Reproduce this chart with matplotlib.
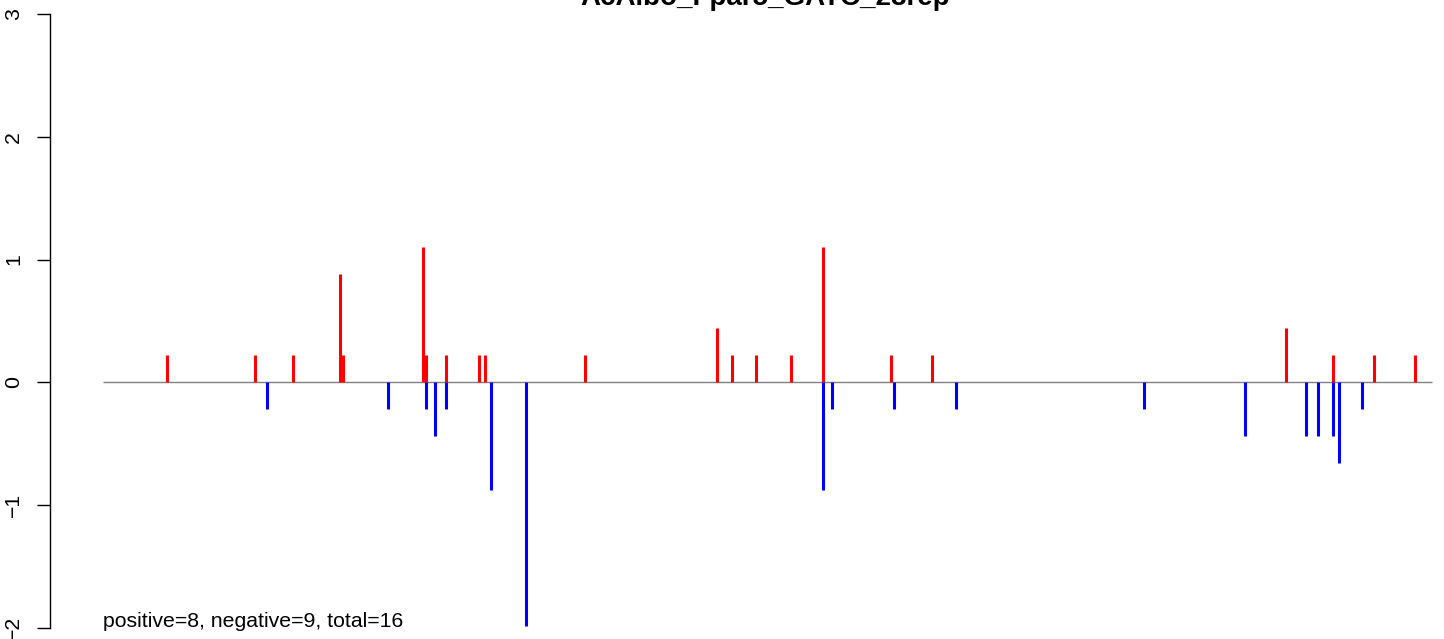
import matplotlib
matplotlib.use("Agg")
import matplotlib.pyplot as plt

plt.rcParams['font.family'] = ['Liberation Sans', 'DejaVu Sans']

#==============================================================================
# Data
#==============================================================================

title = "AcAlbo_Fpar5_GATC_28rep"
note = "positive=8, negative=9, total=16"

pos_x = [167, 255, 293, 340, 343, 423, 426, 446, 479, 485, 585,
         717, 732, 756, 791, 823, 891, 932, 1286, 1333, 1374, 1415]
pos_h = [0.22, 0.22, 0.22, 0.88, 0.22, 1.10, 0.22, 0.22, 0.22, 0.22, 0.22,
         0.44, 0.22, 0.22, 0.22, 1.10, 0.22, 0.22, 0.44, 0.22, 0.22, 0.22]

neg_x = [267, 388, 426, 435, 446, 491, 526, 823, 832, 894, 956,
         1144, 1245, 1306, 1318, 1333, 1339, 1362]
neg_h = [-0.22, -0.22, -0.22, -0.44, -0.22, -0.88, -1.98, -0.88, -0.22,
         -0.22, -0.22, -0.22, -0.44, -0.44, -0.44, -0.44, -0.66, -0.22]

x_range = (103, 1432)
y_ticks = [-2, -1, 0, 1, 2, 3]

#==============================================================================
# Plot
#==============================================================================

W, H = 1444, 639
fig = plt.figure(figsize=(W / 100, H / 100), dpi=100)
ax = fig.add_axes([50 / W, (H - 628) / H, (W - 50) / W, 614 / H])
ax.set_xlim(50, 1444)
ax.set_ylim(-2, 3)

# baseline and the signal bars
ax.hlines(0, x_range[0], x_range[1], color="#808080", linewidth=1.0, zorder=1)
ax.vlines(pos_x, 0, pos_h, color="#ff0000", linewidth=2.2, capstyle="butt", zorder=2)
ax.vlines(neg_x, 0, neg_h, color="#0000ff", linewidth=2.2, capstyle="butt", zorder=3)

for side in ["top", "right", "bottom"]:
    ax.spines[side].set_visible(False)
ax.spines["left"].set_linewidth(1.0)
ax.set_xticks([])
ax.set_yticks(y_ticks)
ax.set_yticklabels([str(t).replace("-", "\u2212") for t in y_ticks],
                   rotation=90, va="center", fontsize=15.3)
ax.tick_params(axis="y", length=9.5, width=1.0, pad=10)

ax.text(103, -1.995, note, fontsize=15.3, ha="left", va="baseline",
        clip_on=False)
fig.text(765 / W, 1 - 5 / H, title, fontsize=20, fontweight="bold",
         ha="center", va="baseline")

fig.savefig("out.png", dpi=100)
